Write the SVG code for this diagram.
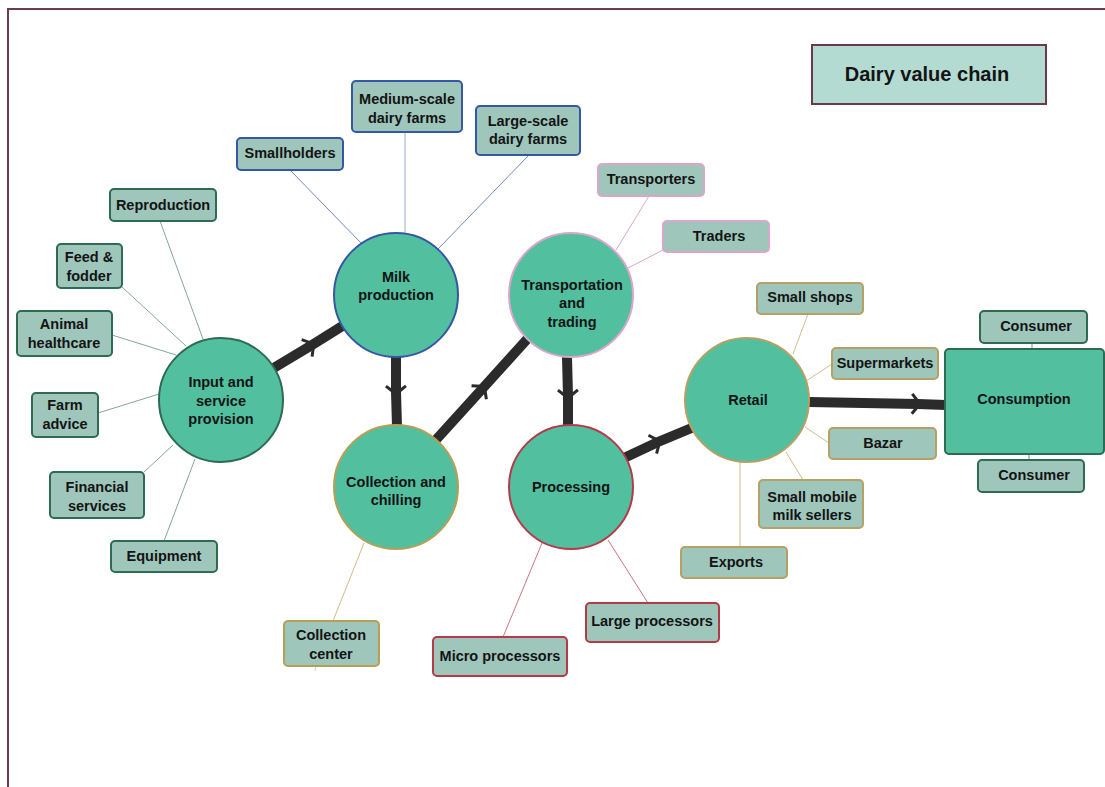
<svg xmlns="http://www.w3.org/2000/svg" width="1105" height="787" viewBox="0 0 1105 787">
  <style>
    text { font-family: "Liberation Sans", Arial, sans-serif; font-weight: bold; font-size: 14.5px; fill: #141414; text-anchor: middle; dominant-baseline: central; }
    .hub { fill: #52bf9f; stroke-width: 2; }
    .box { fill: #9ec6bb; stroke-width: 2; }
    .leaf { fill: none; stroke-width: 1; }
    .flow { fill: none; stroke: #2b2b2b; stroke-width: 10; marker-mid: url(#chev); }
    .g { stroke: #2f6a52; }
    .b { stroke: #3457a6; }
    .y { stroke: #b99e55; }
    .r { stroke: #b43a4a; }
    .p { stroke: #dca6cc; }
    .o { stroke: #b6a064; }
  </style>
  <defs>
    <marker id="chev" markerUnits="userSpaceOnUse" markerWidth="30" markerHeight="30" viewBox="-15 -15 30 30" refX="0" refY="0" orient="auto">
      <path d="M-6,-10 L2,0 L-6,10" fill="none" stroke="#2b2b2b" stroke-width="3"/>
    </marker>
  </defs>

  <rect width="1105" height="787" fill="#ffffff"/>
  <!-- outer frame -->
  <path d="M8,787 L8,9 L1105,9" fill="none" stroke="#6e3a50" stroke-width="2"/>

  <!-- title -->
  <g id="title">
    <rect x="812" y="45" width="234" height="59" fill="#b3dbd1" stroke="#6b3a4a" stroke-width="2"/>
    <text x="927" y="74" style="font-size:20px">Dairy value chain</text>
  </g>

  <!-- connectors -->
  <g id="connectors">
    <!-- input & service links -->
    <line class="leaf g" x1="160" y1="221" x2="203" y2="339" opacity="0.6"/>
    <line class="leaf g" x1="122" y1="287" x2="186" y2="346" opacity="0.6"/>
    <line class="leaf g" x1="112" y1="335" x2="176" y2="355" opacity="0.6"/>
    <line class="leaf g" x1="98" y1="413" x2="159" y2="394" opacity="0.6"/>
    <line class="leaf g" x1="144" y1="472" x2="173" y2="445" opacity="0.6"/>
    <line class="leaf g" x1="164" y1="541" x2="195" y2="459" opacity="0.6"/>
    <!-- milk production links -->
    <line class="leaf b" x1="290" y1="170" x2="361" y2="243" opacity="0.7"/>
    <line class="leaf b" x1="405" y1="132" x2="405" y2="233" opacity="0.5"/>
    <line class="leaf b" x1="529" y1="155" x2="438" y2="249" opacity="0.7"/>
    <!-- transport links -->
    <line class="leaf p" x1="649" y1="196" x2="616" y2="250"/>
    <line class="leaf p" x1="663" y1="250" x2="628" y2="268"/>
    <!-- retail links -->
    <line class="leaf o" x1="808" y1="314" x2="793" y2="354" opacity="0.7"/>
    <line class="leaf o" x1="832" y1="364" x2="806" y2="381" opacity="0.7"/>
    <line class="leaf o" x1="829" y1="443" x2="805" y2="427" opacity="0.7"/>
    <line class="leaf o" x1="803" y1="480" x2="786" y2="452" opacity="0.7"/>
    <line class="leaf o" x1="740" y1="547" x2="740" y2="462" opacity="0.7"/>
    <!-- consumption links -->
    <line class="leaf g" x1="1032" y1="343" x2="1032" y2="350" opacity="0.7"/>
    <line class="leaf g" x1="1029" y1="454" x2="1029" y2="460" opacity="0.7"/>
    <!-- collection links -->
    <line class="leaf y" x1="333" y1="621" x2="364" y2="543" opacity="0.7"/>
    <line class="leaf y" x1="316" y1="666" x2="315" y2="671" opacity="0.5"/>
    <!-- processing links -->
    <line class="leaf r" x1="503" y1="637" x2="542" y2="543" opacity="0.7"/>
    <line class="leaf r" x1="648" y1="603" x2="608" y2="540" opacity="0.7"/>

    <!-- main flow -->
    <polyline class="flow" points="272,369 312,345 344,325"/>
    <polyline class="flow" points="396,357 396,392 397,426"/>
    <polyline class="flow" points="434,442 483,388 530,336"/>
    <polyline class="flow" points="567,357 568,396 568,426"/>
    <polyline class="flow" points="624,458 658,442 694,427"/>
    <polyline class="flow" points="809,402 918,404 946,405"/>
  </g>

  <!-- hubs -->
  <g id="input-service">
    <circle class="hub g" cx="221" cy="400" r="62"/>
    <text x="221" y="382">Input and</text>
    <text x="221" y="401">service</text>
    <text x="221" y="419">provision</text>
  </g>
  <g id="milk-production">
    <circle class="hub b" cx="396" cy="295" r="62"/>
    <text x="396" y="277">Milk</text>
    <text x="396" y="295">production</text>
  </g>
  <g id="collection-chilling">
    <circle class="hub y" cx="396" cy="487" r="62"/>
    <text x="396" y="482">Collection and</text>
    <text x="396" y="500">chilling</text>
  </g>
  <g id="transport-trading">
    <circle class="hub p" cx="571" cy="295" r="62"/>
    <text x="572" y="285">Transportation</text>
    <text x="572" y="303">and</text>
    <text x="572" y="322">trading</text>
  </g>
  <g id="processing">
    <circle class="hub r" cx="571" cy="487" r="62"/>
    <text x="571" y="487">Processing</text>
  </g>
  <g id="retail">
    <circle class="hub o" cx="747" cy="400" r="62"/>
    <text x="748" y="400">Retail</text>
  </g>
  <g id="consumption">
    <rect x="945" y="349" width="159" height="105" rx="4" class="hub g"/>
    <text x="1024" y="399">Consumption</text>
  </g>

  <!-- input & service items -->
  <g id="reproduction"><rect class="box g" x="110" y="189" width="106" height="32" rx="4"/><text x="163" y="205">Reproduction</text></g>
  <g id="feed-fodder"><rect class="box g" x="57" y="244" width="65" height="44" rx="4"/><text x="89" y="257">Feed &amp;</text><text x="89" y="276">fodder</text></g>
  <g id="animal-healthcare"><rect class="box g" x="17" y="311" width="95" height="45" rx="4"/><text x="64" y="324">Animal</text><text x="64" y="343">healthcare</text></g>
  <g id="farm-advice"><rect class="box g" x="32" y="393" width="66" height="44" rx="4"/><text x="65" y="405">Farm</text><text x="65" y="424">advice</text></g>
  <g id="financial-services"><rect class="box g" x="50" y="472" width="94" height="46" rx="4"/><text x="97" y="487">Financial</text><text x="97" y="506">services</text></g>
  <g id="equipment"><rect class="box g" x="111" y="541" width="106" height="31" rx="4"/><text x="164" y="556">Equipment</text></g>

  <!-- milk production items -->
  <g id="smallholders"><rect class="box b" x="237" y="138" width="106" height="32" rx="4"/><text x="290" y="153">Smallholders</text></g>
  <g id="medium-farms"><rect class="box b" x="352" y="81" width="110" height="51" rx="4"/><text x="407" y="99">Medium-scale</text><text x="407" y="118">dairy farms</text></g>
  <g id="large-farms"><rect class="box b" x="476" y="106" width="104" height="49" rx="4"/><text x="528" y="121">Large-scale</text><text x="528" y="139">dairy farms</text></g>

  <!-- transport items -->
  <g id="transporters"><rect class="box p" x="598" y="164" width="106" height="32" rx="4"/><text x="651" y="179">Transporters</text></g>
  <g id="traders"><rect class="box p" x="663" y="221" width="106" height="31" rx="4"/><text x="719" y="236">Traders</text></g>

  <!-- retail items -->
  <g id="small-shops"><rect class="box o" x="757" y="283" width="106" height="31" rx="4"/><text x="810" y="297">Small shops</text></g>
  <g id="supermarkets"><rect class="box o" x="832" y="348" width="106" height="31" rx="4"/><text x="885" y="363">Supermarkets</text></g>
  <g id="bazar"><rect class="box o" x="829" y="428" width="107" height="31" rx="4"/><text x="883" y="443">Bazar</text></g>
  <g id="mobile-sellers"><rect class="box o" x="759" y="480" width="104" height="48" rx="4"/><text x="812" y="497">Small mobile</text><text x="812" y="515">milk sellers</text></g>
  <g id="exports"><rect class="box o" x="681" y="547" width="106" height="31" rx="4"/><text x="736" y="562">Exports</text></g>

  <!-- consumption items -->
  <g id="consumer-top"><rect class="box g" x="980" y="311" width="107" height="32" rx="4"/><text x="1036" y="326">Consumer</text></g>
  <g id="consumer-bottom"><rect class="box g" x="978" y="460" width="106" height="32" rx="4"/><text x="1034" y="475">Consumer</text></g>

  <!-- collection item -->
  <g id="collection-center"><rect class="box y" x="284" y="621" width="95" height="45" rx="4"/><text x="331" y="635">Collection</text><text x="331" y="654">center</text></g>

  <!-- processing items -->
  <g id="micro-processors"><rect class="box r" x="433" y="637" width="134" height="39" rx="4"/><text x="500" y="656">Micro processors</text></g>
  <g id="large-processors"><rect class="box r" x="586" y="603" width="133" height="39" rx="4"/><text x="652" y="621">Large processors</text></g>
</svg>
